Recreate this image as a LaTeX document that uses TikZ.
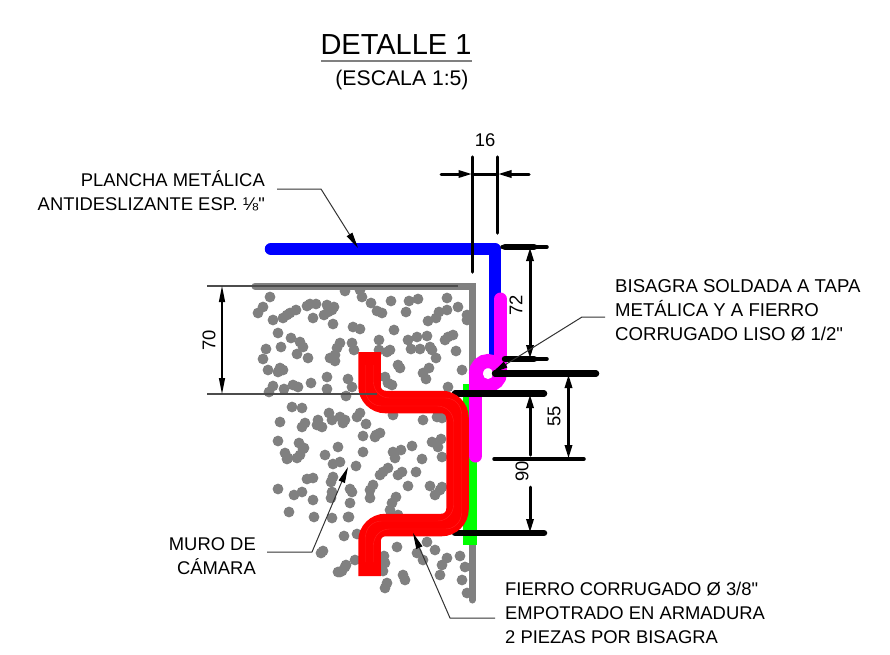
\documentclass[tikz,border=0pt]{standalone}
\usepackage{fontspec}
\setmainfont{Liberation Sans}
\usetikzlibrary{arrows.meta}
\definecolor{wallgray}{RGB}{128,128,128}
\definecolor{hingemagenta}{RGB}{255,0,255}
\definecolor{platgreen}{RGB}{0,255,0}
\definecolor{platblue}{RGB}{0,0,255}
\definecolor{barred}{RGB}{255,0,0}
\newcommand{\straightq}{\XeTeXglyph\XeTeXcharglyph 34\relax}
\begin{document}
\begin{tikzpicture}[x=1pt,y=-1pt]
      \tikzstyle{label}=[inner sep=0pt,font=\fontsize{18.4}{24}\selectfont]
      \tikzstyle{dimtext}=[inner sep=0pt,font=\fontsize{18.4}{20}\selectfont]
      \tikzstyle{plate}=[draw,line width=12.5pt,line join=round]
      \tikzstyle{ext}=[draw,black,line width=3.5pt,line cap=round]
      \tikzstyle{bar}=[draw,black,line width=6.5pt,line cap=round]
      \tikzstyle{dim}=[draw,black,line width=3pt,{Triangle[length=14pt,width=7pt]}-{Triangle[length=14pt,width=7pt]}]
      \tikzstyle{dimhalf}=[draw,black,line width=3pt,-{Triangle[length=14pt,width=7pt]}]
      \tikzstyle{leader}=[draw,black!80,line width=1pt,line join=bevel,-{Triangle[length=16pt,width=6.5pt,black]}]
      \useasboundingbox (0,0) rectangle (890,654);
      % title
      \node[inner sep=0pt,font=\fontsize{29}{30}\selectfont] (title) at (396,45) {DETALLE 1};
      \node[inner sep=0pt,font=\fontsize{21.2}{22}\selectfont] (scale) at (402,80) {(ESCALA 1:5)};
      \coordinate (ula) at (321,61);
      \coordinate (ulb) at (472,61);
      \path[draw,wallgray,line width=2pt] (ula) -- (ulb);
      % concrete
      \foreach \x/\y in {270/297,263/307,258/313,273/320,283/318,287/315,290/313,296/310,307/306,310/304,316/304,313/318,324/315,328/312,327/305,334/307,332/310,333/324,353/327,360/329,345/291,360/290,362/297,371/303,377/311,382/313,391/301,409/301,418/299,406/312,447/298,458/307,447/310,439/312,436/318,428/321,467/315,467/320,394/330,
      278/333,291/338,300/342,303/347,281/347,266/349,297/354,308/358,263/359,268/370,278/372,283/370,280/368,340/343,337/348,335/355,330/358,335/361,352/343,354/350,379/340,379/350,390/350,387/352,398/365,400/368,408/340,417/337,427/336,411/349,420/349,430/347,432/350,445/340,448/337,453/335,456/351,436/358,429/368,423/373,426/379,462/370,327/377,348/379,327/389,352/387,311/383,293/385,298/387,284/389,273/386,269/392,385/377,388/383,392/385,448/387,346/396,
      292/407,302/408,280/422,305/423,302/427,318/420,317/425,322/427,329/413,332/420,340/417,345/420,343/423,360/413,357/417,366/424,363/436,376/435,278/441,299/443,303/449,285/453,300/455,338/447,325/455,363/452,288/458,297/458,
      393/415,423/420,437/417,442/418,380/433,375/437,412/446,401/450,393/452,395/458,432/442,441/439,438/447,422/459,442/457,388/468,383/472,380/475,402/472,398/475,416/472,408/486,430/486,435/495,442/487,396/497,392/503,390/510,398/515,373/485,370/490,370/498,
      287/459,304/448,333/464,340/462,356/466,307/479,313/478,333/477,331/482,278/489,350/489,352/492,332/492,331/498,294/495,302/492,313/500,350/503,289/512,314/517,332/518,349/517,344/536,357/534,323/551,321/553,355/560,346/565,338/572,342/571,
      384/556,385/563,383/571,387/583,385/588,403/575,405/580,427/542,397/547,435/550,417/553,423/560,447/558,442/565,440/575,460/556,465/567,462/580,467/593,
      440/490,345/567,340/572,348/517}
        \fill[wallgray] (\x,\y) circle (5.4pt);
      % wall edge and plates
      \path[draw,wallgray,line width=7pt,line cap=round,line join=miter] (255,286) -- (472,286) -- (472,600);
      \path[draw,black!70,line width=1.2pt] (207,286) -- (458,286);
      \path[draw,platgreen,line width=14pt,rounded corners=2pt] (469.5,384) -- (469.5,545);
      \path[plate,platblue,line cap=round] (271,249) -- (495,249) -- (495,360);
      % hinge
      \path[draw,hingemagenta,line width=13pt,line cap=round] (500.5,299) -- (500.5,373);
      \path[draw,hingemagenta,line width=13pt,line cap=round] (475.5,373) -- (475.5,456);
      \path[draw,hingemagenta,line width=14pt] (488,373) circle (12pt);
      \fill[white] (488,374) circle (5pt);
      % extension lines
      \coordinate (e16a) at (472.5,157);
      \coordinate (e16b) at (472.5,272);
      \coordinate (e16c) at (497.5,157);
      \coordinate (e16d) at (497.5,233);
      \path[ext] (e16a) -- (e16b);
      \path[ext] (e16c) -- (e16d);
      \path[ext] (502,247) -- (547,247);
      \path[bar] (505,247) -- (534,247);
      \path[ext] (505,359) -- (547,359);
      \path[bar] (505,359) -- (534,359);
      \path[bar] (495,373.5) -- (596,373.5);
      \path[bar] (455,393.5) -- (544,393.5);
      \path[ext] (494,459) -- (584,459);
      \path[bar] (455,533) -- (544,533);
      % steel bar
      \path[draw,barred,line width=22.5pt,rounded corners=16pt] (369.5,352) -- (369.5,402) -- (457.5,402) -- (457.5,525) -- (369.5,525) -- (369.5,576);
      \path[draw,barred!88!white,line width=.4pt,rounded corners=16pt] (365.5,365) -- (365.5,406) -- (453.5,406) -- (453.5,521) -- (365.5,521) -- (365.5,562);
      \path[draw,barred!88!white,line width=.4pt,rounded corners=16pt] (373.5,365) -- (373.5,398) -- (461.5,398) -- (461.5,529) -- (373.5,529) -- (373.5,562);
      \path[draw,black!70,line width=1.2pt] (207,394) -- (377,394);
      % dimensions
      \coordinate (d16a) at (441,174);
      \coordinate (d16b) at (472.5,174);
      \coordinate (d16c) at (529,174);
      \coordinate (d16d) at (497.5,174);
      \path[dimhalf,line cap=round] (d16a) -- (d16b);
      \path[dimhalf,line cap=round] (d16c) -- (d16d);
      \path[draw,black,line width=3pt] (d16b) -- (d16d);
      \node[dimtext] (t16) at (485,140) {16};
      \coordinate (d72a) at (530,247);
      \coordinate (d72b) at (530,359);
      \path[dim] (d72a) -- (d72b);
      \node[dimtext,rotate=90] (t72) at (516,305) {72};
      \coordinate (d55a) at (568.5,374);
      \coordinate (d55b) at (568.5,459);
      \path[dim] (d55a) -- (d55b);
      \node[dimtext,rotate=90] (t55) at (554,416) {55};
      \coordinate (d90a) at (530,455);
      \coordinate (d90b) at (530,394);
      \coordinate (d90c) at (530,487);
      \coordinate (d90d) at (530,533);
      \path[dimhalf,line cap=round] (d90a) -- (d90b);
      \path[dimhalf,line cap=round] (d90c) -- (d90d);
      \node[dimtext,rotate=90] (t90) at (522,471) {90};
      \coordinate (d70a) at (222,286);
      \coordinate (d70b) at (222,394);
      \path[draw,black,line width=1.2pt,{Triangle[length=16pt,width=6pt]}-{Triangle[length=16pt,width=6pt]}] (d70a) -- (d70b);
      \node[dimtext,rotate=90] (t70) at (209,340) {70};
      % labels
      \node[label,align=right,anchor=east] (plancha) at (265,190.5) {PLANCHA METÁLICA\\ANTIDESLIZANTE ESP. ⅛\straightq};
      \node[label,font=\fontsize{18.6}{24}\selectfont,align=left,anchor=west] (bisagra) at (615,310) {BISAGRA SOLDADA A TAPA\\METÁLICA Y A FIERRO\\CORRUGADO LISO Ø 1/2\straightq};
      \node[label,align=right,anchor=east] (muro) at (256,556.5) {MURO DE\\CÁMARA};
      \node[label,align=left,anchor=west] (fierro) at (505,613) {FIERRO CORRUGADO Ø 3/8\straightq\\EMPOTRADO EN ARMADURA\\2 PIEZAS POR BISAGRA};
      % leaders
      \coordinate (lp) at (277,189);
      \coordinate (lq) at (321,189);
      \coordinate (lr) at (358,248);
      \path[leader] (lp) -- (lq) -- (lr);
      \coordinate (bp) at (605,317);
      \coordinate (bq) at (582,317);
      \coordinate (br) at (492,373);
      \path[leader] (bp) -- (bq) -- (br);
      \coordinate (mp) at (267,552);
      \coordinate (mq) at (312,552);
      \coordinate (mr) at (348,467);
      \path[leader] (mp) -- (mq) -- (mr);
      \coordinate (fp) at (495,618);
      \coordinate (fq) at (450,618);
      \coordinate (fr) at (413,533);
      \path[leader] (fp) -- (fq) -- (fr);
    \end{tikzpicture}
\end{document}
